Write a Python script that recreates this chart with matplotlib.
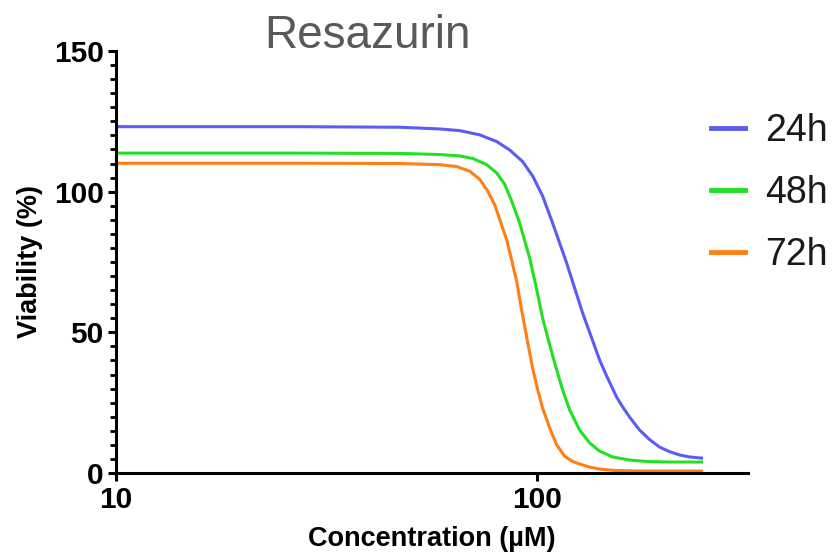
import matplotlib.pyplot as plt
from matplotlib.ticker import FixedLocator, NullLocator

# values (concentration in uM, viability in %)
conc_24h = [10.0, 27.4, 47.3, 58.8, 65.6, 73.2, 80.4, 86.3, 92.6, 97.8, 103.3,
            109.1, 117.8, 128.6, 141.1, 147.4, 154.9, 160.1, 166.3, 175.6, 185.5,
            196.0, 207.0, 218.7, 230.9, 246.6]
via_24h = [123.1, 123.1, 122.9, 122.3, 121.7, 120.2, 117.8, 114.8, 110.7, 105.6, 98.5,
           88.9, 74.7, 56.9, 40.2, 33.8, 27.0, 23.5, 19.9, 15.3, 11.9,
           9.2, 7.6, 6.4, 5.7, 5.3]

conc_48h = [10.0, 27.4, 47.3, 58.8, 65.6, 70.5, 76.1, 80.4, 83.9, 87.2, 91.1,
            96.2, 99.5, 103.3, 107.4, 111.6, 115.3, 119.8, 126.5, 133.6, 141.1,
            151.5, 166.3, 182.5, 207.0, 246.6]
via_48h = [113.7, 113.7, 113.6, 113.2, 112.7, 111.8, 109.6, 106.6, 102.7, 96.7, 88.9,
           76.5, 66.8, 55.1, 45.5, 36.6, 29.5, 22.4, 15.3, 10.7, 7.8,
           5.7, 4.6, 4.1, 3.9, 3.9]

conc_72h = [10.0, 27.4, 47.3, 58.8, 64.6, 69.3, 73.2, 76.5, 79.5, 82.1, 84.9,
            87.2, 89.7, 92.1, 94.7, 97.8, 100.6, 103.3, 107.4, 111.6, 116.5,
            121.8, 126.5, 133.6, 141.1, 153.2, 175.6, 246.6]
via_72h = [110.1, 110.1, 110.0, 109.6, 108.9, 107.3, 104.4, 100.2, 95.3, 89.2, 82.8,
           75.7, 67.9, 57.9, 48.3, 37.3, 29.5, 23.1, 16.0, 10.0, 6.0,
           4.1, 3.2, 2.1, 1.4, 0.9, 0.7, 0.7]

labels = ['24h', '48h', '72h']
colors = ['#5c5cf2', '#22e022', '#ff7f15']

plt.rcParams['font.family'] = ['Liberation Sans', 'DejaVu Sans']

fig = plt.figure(figsize=(8.34, 5.59), dpi=100)
ax = fig.add_axes([116 / 834, 1 - 473 / 559, (748 - 116) / 834, (473 - 51) / 559])

series = [(conc_24h, via_24h), (conc_48h, via_48h), (conc_72h, via_72h)]
for (x, y), lab, col in zip(series, labels, colors):
    ax.plot(x, y, color=col, lw=2.2, label=lab, solid_joinstyle='round')

ax.set_xscale('log')
ax.set_xlim(10, 318)
ax.set_ylim(0, 150)
ax.xaxis.set_major_locator(FixedLocator([10, 100]))
ax.xaxis.set_minor_locator(NullLocator())
ax.set_xticklabels(['10', '100'])
ax.set_yticks([0, 50, 100, 150])
ax.yaxis.set_minor_locator(FixedLocator(list(range(0, 151, 5))))

for s in ['top', 'right']:
    ax.spines[s].set_visible(False)
for s in ['left', 'bottom']:
    ax.spines[s].set_linewidth(2.2)
    ax.spines[s].set_color('black')

ax.tick_params(axis='both', which='major', direction='out', length=6, width=2.2,
               labelsize=21.5, pad=3)
ax.tick_params(axis='y', which='minor', direction='out', length=4, width=2)
for t in ax.get_xticklabels() + ax.get_yticklabels():
    t.set_fontweight('bold')

ax.set_ylabel('Viability (%)', fontsize=19.5, fontweight='bold', labelpad=8)
ax.set_xlabel('Concentration (µM)', fontsize=19.5, fontweight='bold', labelpad=9)

fig.text(367 / 834, 1 - 36 / 559, 'Resazurin', fontsize=33, color='#595959',
         ha='center', va='center')

leg = ax.legend(loc='center left', bbox_to_anchor=(711 / 834, 1 - 193 / 559),
                bbox_transform=fig.transFigure, frameon=False, fontsize=27,
                handlelength=0.91, handletextpad=0.53, labelspacing=0.69,
                borderpad=0, borderaxespad=0)
for h in leg.get_lines():
    h.set_linewidth(3.5)
for t in leg.get_texts():
    t.set_color('#1a1a1a')

fig.savefig('out.png', dpi=100)
